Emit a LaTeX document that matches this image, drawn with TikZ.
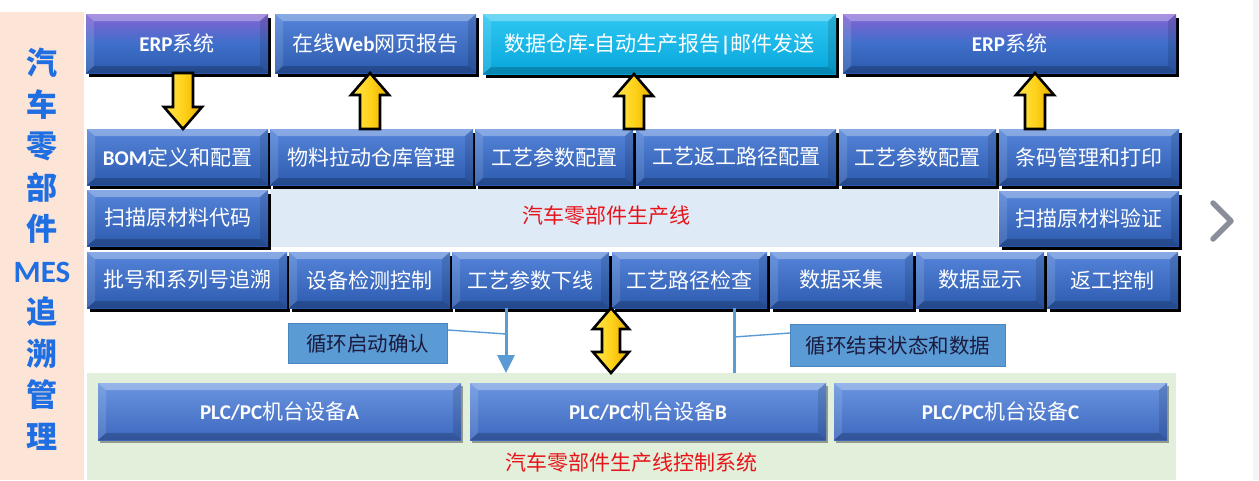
\documentclass[tikz,border=0pt]{standalone}
\usepackage{fontspec}
\setmainfont{Noto Sans CJK SC}
\newfontfamily\carl{Carlito}
\newcommand\ltn[1]{{\carl\bfseries #1}}
\usetikzlibrary{shadows,calc,arrows.meta}
\definecolor{leftbg}{HTML}{FCE4D6}
\definecolor{midbg}{HTML}{DEEAF6}
\definecolor{greenbg}{HTML}{E2EFDA}
\definecolor{boxtop}{HTML}{5585DA}
\definecolor{boxbot}{HTML}{2C5AAE}
\definecolor{boxmid}{HTML}{3F6FCA}
\definecolor{erptop}{HTML}{8562D4}
\definecolor{cyantop}{HTML}{30C8F2}
\definecolor{cyanbot}{HTML}{06A6DC}
\definecolor{plctop}{HTML}{6A95E0}
\definecolor{plcbot}{HTML}{3E68BE}
\definecolor{callfill}{HTML}{5B9BD5}
\definecolor{callline}{HTML}{4A86C0}
\definecolor{lineblue}{HTML}{5B9BD5}
\definecolor{redtxt}{HTML}{E8141B}
\definecolor{leftblue}{HTML}{1F6FE3}
\definecolor{ylA}{HTML}{FFE650}
\definecolor{ylB}{HTML}{FFD21A}
\definecolor{ylC}{HTML}{E5AC00}
\definecolor{chev}{HTML}{8A8E9A}
\definecolor{strip}{HTML}{F5F5F7}
\definecolor{calltxt}{HTML}{1A1A3C}
\tikzset{
  bevel/.style={path picture={
    \path (path picture bounding box.north west) coordinate (bNW)
          (path picture bounding box.north east) coordinate (bNE)
          (path picture bounding box.south west) coordinate (bSW)
          (path picture bounding box.south east) coordinate (bSE);
    \fill[white,opacity=.30] (bNW) -- (bNE) -- ([shift={(-8pt,-7pt)}]bNE) -- ([shift={(8pt,-7pt)}]bNW) -- cycle;
    \fill[black,opacity=.20] (bSW) -- (bSE) -- ([shift={(-8pt,7pt)}]bSE) -- ([shift={(8pt,7pt)}]bSW) -- cycle;
    \fill[white,opacity=.12] (bNW) -- ([shift={(8pt,-7pt)}]bNW) -- ([shift={(8pt,7pt)}]bSW) -- (bSW) -- cycle;
    \fill[black,opacity=.12] (bNE) -- ([shift={(-8pt,-7pt)}]bNE) -- ([shift={(-8pt,7pt)}]bSE) -- (bSE) -- cycle;
  }},
  box/.style={rectangle, inner sep=0pt, outer sep=0pt, anchor=north west,
    top color=boxtop, bottom color=boxbot, text=white, bevel,
    font=\fontsize{21}{24}\selectfont,
    drop shadow={shadow xshift=2.5pt,shadow yshift=-3.5pt,fill=black,opacity=1}},
  erpbox/.style={box, top color=erptop, bottom color=boxbot, middle color=boxmid},
  cyanbox/.style={box, top color=cyantop, bottom color=cyanbot},
  plcbox/.style={rectangle, inner sep=0pt, outer sep=0pt, anchor=north west,
    top color=plctop, bottom color=plcbot, text=white, bevel,
    font=\fontsize{21}{24}\selectfont,
    drop shadow={shadow xshift=1.5pt,shadow yshift=-2.5pt,fill=black,opacity=.35}},
  callbox/.style={rectangle, inner sep=0pt, anchor=north west, fill=callfill,
    draw=callline, line width=0.8pt, text=calltxt, font=\fontsize{20.5}{24}\selectfont},
  ylarrow/.style={left color=ylA, right color=ylC, middle color=ylB,
    draw=black, line width=2.6pt, line join=miter},
  leader/.style={draw=lineblue, line width=1.4pt},
  feed/.style={draw=lineblue, line width=3pt},
  redlabel/.style={text=redtxt, font=\fontsize{21}{24}\selectfont, inner sep=0pt}
}
\newcommand\bx[7]{\node[#6, minimum width={#4-#2}, minimum height={#5-#3}] (#1) at (#2,#3) {#7};}
\newcommand\yup[3]{\path[ylarrow] let \p1=(#1,0 |- #2), \p2=(#1,0 |- #3) in
  (\x1-10pt,\y1) -- (\x1-10pt,\y2-22pt) -- (\x1-19pt,\y2-22pt) -- (\x1,\y2)
  -- (\x1+19pt,\y2-22pt) -- (\x1+10pt,\y2-22pt) -- (\x1+10pt,\y1) -- cycle;}
\newcommand\ydown[3]{\path[ylarrow] let \p1=(#1,0 |- #2), \p2=(#1,0 |- #3) in
  (\x1-10pt,\y1) -- (\x1-10pt,\y2+22pt) -- (\x1-19pt,\y2+22pt) -- (\x1,\y2)
  -- (\x1+19pt,\y2+22pt) -- (\x1+10pt,\y2+22pt) -- (\x1+10pt,\y1) -- cycle;}
\newcommand\yboth[3]{\path[ylarrow] let \p1=(#1,0 |- #2), \p2=(#1,0 |- #3) in
  (\x1-9pt,\y1+21pt) -- (\x1-9pt,\y2-21pt) -- (\x1-18pt,\y2-21pt) -- (\x1,\y2)
  -- (\x1+18pt,\y2-21pt) -- (\x1+9pt,\y2-21pt) -- (\x1+9pt,\y1+21pt)
  -- (\x1+18pt,\y1+21pt) -- (\x1,\y1) -- (\x1-18pt,\y1+21pt) -- (\x1-9pt,\y1+21pt) -- cycle;}
\begin{document}
\begin{tikzpicture}[x=1pt,y=-1pt]
\useasboundingbox (0,0) rectangle (1259,480);
\fill[white] (0,0) rectangle (1259,480);
\fill[strip] (1253,0) rectangle (1259,480);
% left panel
\fill[leftbg] (0,12) rectangle (84,480);
\node[text=leftblue, align=center, inner sep=0pt, font=\fontsize{31}{41.5}\selectfont\bfseries] (title) at (42,249)
  {汽\\车\\零\\部\\件\\{\carl\bfseries MES}\\追\\溯\\管\\理};
% middle & bottom areas
\node[fill=midbg, inner sep=0pt, anchor=north west, minimum width=728, minimum height=58] (line) at (270,189) {};
\node[redlabel] (linelbl) at (606,216) {汽车零部件生产线};
\node[fill=greenbg, inner sep=0pt, anchor=north west, minimum width=1089, minimum height=107] (green) at (87,373) {};
\node[redlabel] (ctrllbl) at (631,463) {汽车零部件生产线控制系统};
% top row
\bx{erpA}{86}{14}{268}{73}{erpbox}{\ltn{ERP}系统}
\bx{web}{275}{14}{476}{73}{box}{在线\ltn{Web}网页报告}
\bx{dw}{483}{14}{836}{74}{cyanbox}{数据仓库\ltn{-}自动生产报告\ltn{|}邮件发送}
\bx{erpB}{843}{14}{1176}{73}{erpbox}{\ltn{ERP}系统}
% row 2
\bx{bom}{87}{129}{268}{185}{box}{\ltn{BOM}定义和配置}
\bx{mat}{270}{129}{473}{185}{box}{物料拉动仓库管理}
\bx{pcfgA}{475}{129}{633}{185}{box}{工艺参数配置}
\bx{rework}{636}{129}{836}{185}{box}{工艺返工路径配置}
\bx{pcfgB}{839}{129}{996}{185}{box}{工艺参数配置}
\bx{barcode}{999}{129}{1179}{185}{box}{条码管理和打印}
% row 3
\bx{scanA}{87}{190}{268}{246}{box}{扫描原材料代码}
\bx{scanB}{999}{191}{1179}{246}{box}{扫描原材料验证}
% row 4
\bx{batch}{87}{252}{287}{308}{box}{批号和系列号追溯}
\bx{equip}{289}{252}{450}{308}{box}{设备检测控制}
\bx{pdown}{452}{252}{609}{308}{box}{工艺参数下线}
\bx{route}{612}{252}{767}{308}{box}{工艺路径检查}
\bx{collect}{770}{252}{913}{308}{box}{数据采集}
\bx{show}{916}{252}{1044}{308}{box}{数据显示}
\bx{rwctl}{1047}{252}{1178}{308}{box}{返工控制}
% PLC boxes
\bx{plcA}{98}{383}{461}{440}{plcbox}{\ltn{PLC/PC}机台设备\ltn{A}}
\bx{plcB}{470}{383}{826}{440}{plcbox}{\ltn{PLC/PC}机台设备\ltn{B}}
\bx{plcC}{834}{383}{1167}{440}{plcbox}{\ltn{PLC/PC}机台设备\ltn{C}}
% yellow arrows
\ydown{183}{erpA.south}{bom.north}
\yup{370}{mat.north}{web.south}
\yup{634}{pcfgA.north}{dw.south}
\yup{1035}{barcode.north}{erpB.south}
\yboth{611}{green.north}{route.south}
% callouts
\node[callbox, minimum width=159, minimum height=40] (c1) at (288,323) {循环启动确认};
\node[callbox, minimum width=215, minimum height=42] (c2) at (790,324) {循环结束状态和数据};
\draw[feed, -{Triangle[width=17pt,length=18pt]}] (506,0 |- pdown.south) -- (506,0 |- green.north);
\coordinate (j1) at (506,334);
\draw[leader] ($(c1.north east)+(0,-7pt)$) -- (j1);
\draw[feed] (734,0 |- route.south) -- (734,0 |- green.north);
\coordinate (j2) at (734,337);
\draw[leader] (j2) -- ($(c2.north west)+(0,-9pt)$);
% slide chevron
\draw[chev, line width=5.5pt, line cap=round, line join=round] (1213,203) -- (1231,221) -- (1213,239);
\end{tikzpicture}
\end{document}
